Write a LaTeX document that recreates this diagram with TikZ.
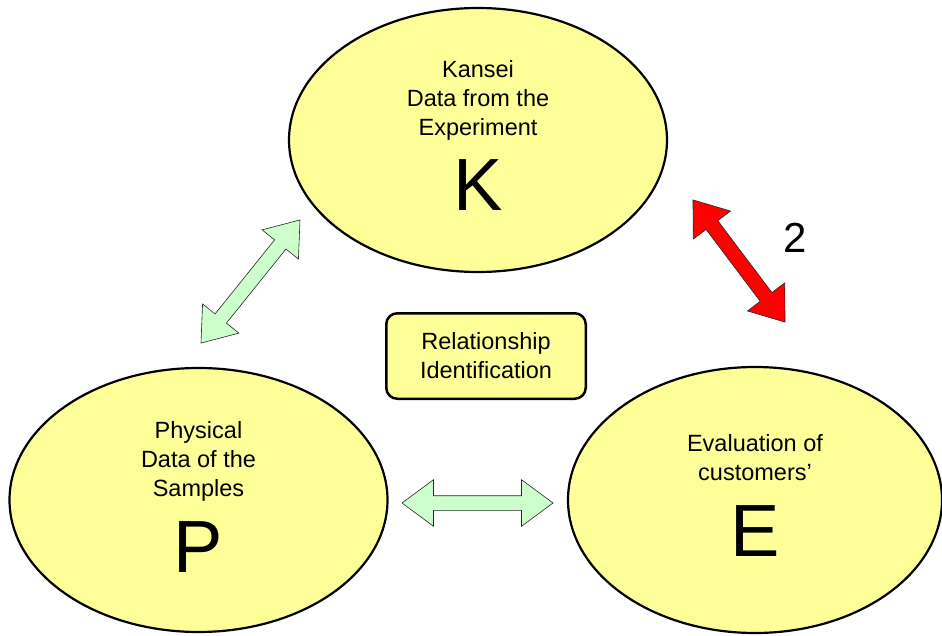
\documentclass[tikz,border=0pt]{standalone}
\usepackage{fontspec}
\setmainfont{Liberation Sans}
\usetikzlibrary{shapes.geometric,shapes.arrows}
\definecolor{paleyellow}{HTML}{FFFF99}
\definecolor{palegreen}{HTML}{CCFFCC}
\begin{document}
\begin{tikzpicture}[x=1pt, y=-1pt, every node/.style={font=\fontsize{23.5}{29}\selectfont}, blob/.style={ellipse,draw,line width=2.2pt,fill=paleyellow,minimum width=378pt,minimum height=264pt,inner sep=0pt}, txt/.style={align=center,anchor=base}, letter/.style={font=\fontsize{74}{74}\selectfont,anchor=base}, relbox/.style={draw,line width=2.5pt,rounded corners=11pt,fill=paleyellow,minimum width=199.5pt,minimum height=85.5pt,align=center}, link/.style={double arrow,draw=black!85,line width=0.6pt,inner xsep=0pt,inner ysep=7pt,minimum width=0pt,double arrow head extend=16pt,double arrow tip angle=73}]
\useasboundingbox (0,0) rectangle (942,636);
\node[blob] (K) at (478,140) {};
\node[blob] (P) at (198.5,500) {};
\node[blob, minimum width=374pt, minimum height=266pt] (E) at (755,500) {};
\node[txt] (ktext) at ([yshift=4pt]K.center) {Kansei\\Data from the\\Experiment};
\node[letter] (kletter) at ([yshift=-71pt]K.center) {K};
\node[txt] (ptext) at ([yshift=4pt]P.center) {Physical\\Data of the\\Samples};
\node[letter] (pletter) at ([yshift=-72pt]P.center) {P};
\node[txt] (etext) at ([yshift=20pt]E.center) {Evaluation of\\customers'};
\node[letter] (eletter) at ([yshift=-56pt]E.center) {E};
\node[relbox] (rel) at (486,356) {Relationship\\Identification};
\node[link, fill=palegreen, rotate=51.2, minimum height=158pt] (kp) at (250.5,281.5) {};
\node[link, fill=palegreen, minimum height=151pt] (pe) at (477.5,503) {};
\node[link, fill=red, rotate=-53, minimum height=153pt] (ke) at (739,261) {};
\node[anchor=base, font=\fontsize{42}{42}\selectfont] (two) at (795,253) {2};
\end{tikzpicture}
\end{document}
